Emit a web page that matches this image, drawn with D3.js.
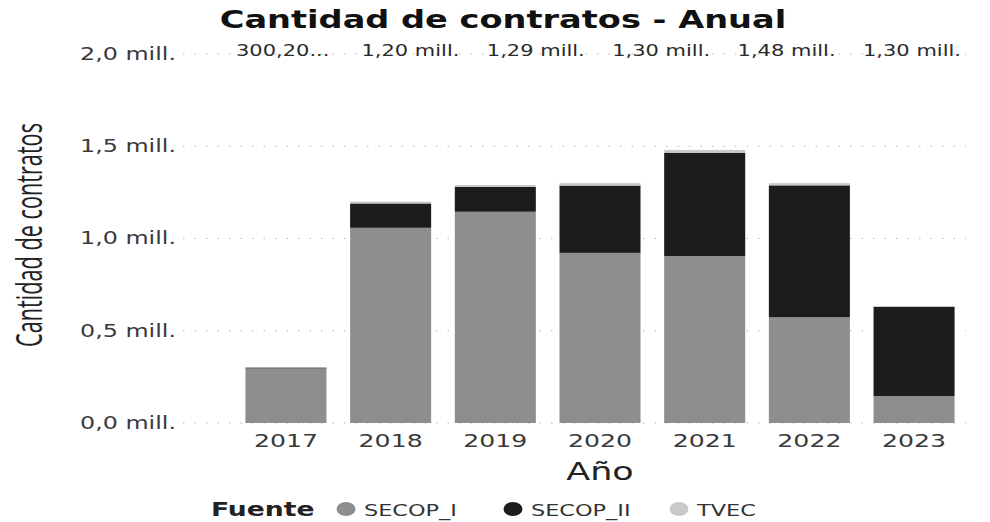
<!DOCTYPE html>
<html>
<head>
<meta charset="utf-8">
<script src="https://cdn.jsdelivr.net/npm/d3@7"></script>
<style>
  body { margin: 0; background: #fff; }
  text { font-family: 'DejaVu Sans', sans-serif; }
</style>
</head>
<body>
<svg id="chart"></svg>
<script>
// values, in millions of contracts
const years = ['2017', '2018', '2019', '2020', '2021', '2022', '2023'];
const secopI = [0.296, 1.058, 1.145, 0.922, 0.905, 0.573, 0.146];
const secopII = [0.004, 0.132, 0.135, 0.365, 0.560, 0.715, 0.484];
const tvec = [0.000, 0.010, 0.010, 0.013, 0.015, 0.012, 0.003];
const seriesNames = ['SECOP_I', 'SECOP_II', 'TVEC'];
const yTicks = [0, 0.5, 1, 1.5, 2];
const totalLabels = ['300,20...', '1,20 mill.', '1,29 mill.', '1,30 mill.', '1,48 mill.', '1,30 mill.'];

const width = 990;
const height = 522;
const sx = 1.4; // the reference text is stretched sideways

const colors = { SECOP_I: '#8e8e8e', SECOP_II: '#1c1c1c', TVEC: '#c9c9c9' };

const rows = years.map((y, i) => ({ year: y, SECOP_I: secopI[i], SECOP_II: secopII[i], TVEC: tvec[i] }));
const stacked = d3.stack().keys(seriesNames)(rows);

const xScale = d3.scaleBand().domain(years).range([233.6, 966.4]).paddingInner(0.226).paddingOuter(0.113);
const yScale = d3.scaleLinear().domain([0, 2]).range([423, 54]);
const labelScale = d3.scalePoint().domain(d3.range(totalLabels.length)).range([236, 863]);
const fmt = (d) => d.toFixed(1).replace('.', ',') + ' mill.';

const svg = d3.select('#chart')
    .attr('width', width)
    .attr('height', height);

// put text at (x, y) and stretch it horizontally
const place = (sel, x, y, rot) => sel.attr('transform',
    `translate(${x},${y}) scale(${sx},1)` + (rot ? ` rotate(${rot})` : ''));

// gridlines
svg.append('g')
    .attr('class', 'grid')
    .selectAll('line')
    .data(yTicks)
    .enter()
    .append('line')
    .attr('x1', 183)
    .attr('x2', 966)
    .attr('y1', (d) => yScale(d))
    .attr('y2', (d) => yScale(d))
    .attr('stroke', '#b5b5b5')
    .attr('stroke-width', 1)
    .attr('stroke-dasharray', '1.5,10');

// y tick labels
svg.append('g')
    .attr('class', 'y axis')
    .selectAll('text')
    .data(yTicks)
    .enter()
    .append('text')
    .each(function (d) { place(d3.select(this), 176, yScale(d)); })
    .attr('dy', '0.35em')
    .style('text-anchor', 'end')
    .style('font-size', '17px')
    .attr('fill', '#3a3a3a')
    .text(fmt);

// stacked bars
svg.append('g')
    .attr('class', 'bars')
    .selectAll('g')
    .data(stacked)
    .enter()
    .append('g')
    .attr('fill', (s) => colors[s.key])
    .selectAll('rect')
    .data((s) => s)
    .enter()
    .append('rect')
    .attr('x', (d) => xScale(d.data.year))
    .attr('width', xScale.bandwidth())
    .attr('y', (d) => yScale(d[1]))
    .attr('height', (d) => yScale(d[0]) - yScale(d[1]));

// x tick labels
svg.append('g')
    .attr('class', 'x axis')
    .selectAll('text')
    .data(years)
    .enter()
    .append('text')
    .each(function (d) { place(d3.select(this), xScale(d) + xScale.bandwidth() / 2, 447); })
    .style('text-anchor', 'middle')
    .style('font-size', '18px')
    .attr('fill', '#3a3a3a')
    .text((d) => d);

// total labels along the top
svg.append('g')
    .attr('class', 'totals')
    .selectAll('text')
    .data(totalLabels)
    .enter()
    .append('text')
    .each(function (d, i) { place(d3.select(this), labelScale(i), 56); })
    .style('text-anchor', 'start')
    .style('font-size', '15px')
    .attr('fill', '#2a2a2a')
    .text((d) => d);

// title
svg.append('text')
    .call(place, 503, 28)
    .style('text-anchor', 'middle')
    .style('font-size', '24px')
    .style('font-weight', 'bold')
    .attr('fill', '#111')
    .text('Cantidad de contratos - Anual');

// axis titles
svg.append('text')
    .call(place, 600, 480)
    .style('text-anchor', 'middle')
    .style('font-size', '25px')
    .attr('fill', '#222')
    .text('Año');

svg.append('text')
    .call(place, 42, 235, -90)
    .style('text-anchor', 'middle')
    .style('font-family', "'Open Sans', sans-serif")
    .style('font-size', '26px')
    .attr('textLength', 224)
    .attr('lengthAdjust', 'spacingAndGlyphs')
    .attr('fill', '#222')
    .text('Cantidad de contratos');

// legend
const legend = svg.append('g').attr('class', 'legend');
legend.append('text')
    .call(place, 211, 516)
    .style('font-size', '19px')
    .style('font-weight', 'bold')
    .attr('fill', '#222')
    .text('Fuente');

const legendX = d3.scaleOrdinal().domain(seriesNames).range([346, 513, 679]);
const items = legend.selectAll('.item')
    .data(seriesNames)
    .enter()
    .append('g')
    .attr('class', 'item');
items.append('ellipse')
    .attr('cx', (d) => legendX(d))
    .attr('cy', 509)
    .attr('rx', 9.5)
    .attr('ry', 7)
    .attr('fill', (d) => colors[d]);
items.append('text')
    .each(function (d) { place(d3.select(this), legendX(d) + 18, 516); })
    .style('font-size', '16px')
    .attr('fill', '#333')
    .text((d) => d);
</script>
</body>
</html>
